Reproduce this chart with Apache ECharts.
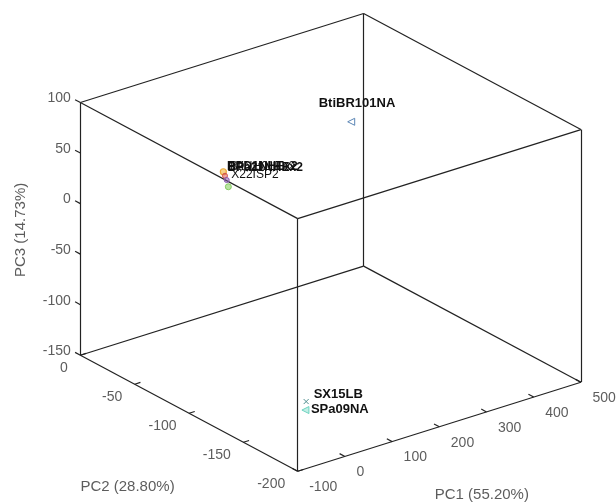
<!DOCTYPE html>
<html><head><meta charset="utf-8">
<script src="https://cdn.jsdelivr.net/npm/echarts@6/dist/echarts.min.js"></script>
<style>html,body{margin:0;padding:0;background:#fff}#c{width:616px;height:503px}</style>
</head><body><div id="c"></div>
<script>
// ---------------- data ----------------
const sampleNames = ['BtiBR101NA', 'BPD1NHEx2', 'BPa21NHEx2', 'X22ISP2', 'BtiNH01Ex2', 'SX15LB', 'SPa09NA'];
const pc1Values   = [430, -40, -40, -40, -40, -13, -10];
const pc2Values   = [-19, -105.5, -107, -108.6, -110.1, -170, -168];
const pc3Values   = [14, 83.3, 80.2, 76.9, 71.1, -111, -121];
const pc1Ticks = [-100, 0, 100, 200, 300, 400, 500];
const pc2Ticks = [0, -50, -100, -150, -200];
const pc3Ticks = [-150, -100, -50, 0, 50, 100];
const pc1Title = 'PC1 (55.20%)';
const pc2Title = 'PC2 (28.80%)';
const pc3Title = 'PC3 (14.73%)';

// ---------------- view / styles ----------------
const view = { az: 37.5, el: 24.2, boxW: 357, boxH: 277, originX: 297.7, originY: 471.3 };
const FONT = 'Liberation Sans, Arial, sans-serif';
const LINE = '#222222';
const TXT = '#333333';
const markerStyle = {
  'BtiBR101NA': { symbol: 'triangle', rotate: 90, size: 7, fill: 'rgba(0,0,0,0)', stroke: '#5b86b5', lw: 1, lab: [-33, -18], bold: true, fs: 13 },
  'BPD1NHEx2':  { symbol: 'circle', rotate: 0, size: 6, fill: 'rgba(240,180,60,0.6)', stroke: '#e9a93a', lw: 1.2, lab: [3, -5], bold: true, fs: 12 },
  'BPa21NHEx2': { symbol: 'circle', rotate: 0, size: 5, fill: 'rgba(220,80,80,0.5)', stroke: '#d0504a', lw: 1, lab: [2, -8.5], bold: true, fs: 12 },
  'X22ISP2':    { symbol: 'circle', rotate: 0, size: 5, fill: 'rgba(140,90,180,0.5)', stroke: '#8a5cb0', lw: 1, lab: [4, -5], bold: false, fs: 12 },
  'BtiNH01Ex2': { symbol: 'circle', rotate: 0, size: 6, fill: 'rgba(140,210,100,0.6)', stroke: '#86cc62', lw: 1, lab: [1, -20], bold: false, fs: 12 },
  'SX15LB':     { symbol: 'path://M0,0L10,10M10,0L0,10', rotate: 0, size: 5, fill: 'rgba(0,0,0,0)', stroke: '#4f8f8f', lw: 1, lab: [7, -7], bold: true, fs: 13 },
  'SPa09NA':    { symbol: 'triangle', rotate: 90, size: 7, fill: 'rgba(120,220,200,0.45)', stroke: '#6dd3c0', lw: 1, lab: [5, -1], bold: true, fs: 13 }
};

// ---------------- projection ----------------
const xr = [Math.min(...pc1Ticks), Math.max(...pc1Ticks)];
const yr = [Math.min(...pc2Ticks), Math.max(...pc2Ticks)];
const zr = [Math.min(...pc3Ticks), Math.max(...pc3Ticks)];
const a = view.az * Math.PI / 180, e = view.el * Math.PI / 180;
const hx = view.boxW * Math.cos(a), hy = -view.boxW * Math.sin(a);
const vx = view.boxW * Math.sin(a) * Math.sin(e), vy = view.boxW * Math.cos(a) * Math.sin(e), vz = view.boxH * Math.cos(e);
function project(x, y, z) {
  const X = (x - xr[0]) / (xr[1] - xr[0]);
  const Y = (y - yr[0]) / (yr[1] - yr[0]);
  const Z = (z - zr[0]) / (zr[1] - zr[0]);
  return [view.originX + X * hx + Y * hy, view.originY - (X * vx + Y * vy + Z * vz)];
}
function unitDir(dx, dy, dz) {
  const p0 = project(xr[0], yr[0], zr[0]);
  const p1 = project(xr[0] + dx * (xr[1] - xr[0]), yr[0] + dy * (yr[1] - yr[0]), zr[0] + dz * (zr[1] - zr[0]));
  const ux = p1[0] - p0[0], uy = p1[1] - p0[1], n = Math.hypot(ux, uy);
  return [ux / n, uy / n];
}

// box edges
const edges = [];
for (const yv of yr) for (const zv of zr) edges.push({ coords: [project(xr[0], yv, zv), project(xr[1], yv, zv)] });
for (const xv of xr) for (const zv of zr) edges.push({ coords: [project(xv, yr[0], zv), project(xv, yr[1], zv)] });
for (const xv of xr) for (const yv of yr) edges.push({ coords: [project(xv, yv, zr[0]), project(xv, yv, zr[1])] });

// tick marks
const TL = 6;
const dX = unitDir(1, 0, 0), dY = unitDir(0, 1, 0);
const ticks = [];
pc1Ticks.forEach(v => { const p = project(v, yr[0], zr[0]); ticks.push({ coords: [p, [p[0] + dY[0] * TL, p[1] + dY[1] * TL]] }); });
pc2Ticks.forEach(v => { const p = project(xr[0], v, zr[0]); ticks.push({ coords: [p, [p[0] + dX[0] * TL, p[1] + dX[1] * TL]] }); });
pc3Ticks.forEach(v => { const p = project(xr[0], yr[1], v); ticks.push({ coords: [p, [p[0] + dY[0] * TL, p[1] + dY[1] * TL]] }); });

function textSeries(points, labelOpt) {
  return {
    type: 'scatter', symbolSize: 1, silent: true, z: 5,
    itemStyle: { color: 'rgba(0,0,0,0)' },
    data: points.map(p => ({ value: p.pos, name: p.text })),
    label: Object.assign({ show: true, formatter: q => q.name, distance: 0, color: TXT, fontFamily: FONT, fontSize: 14 }, labelOpt)
  };
}

const series = [];
series.push({ type: 'lines', coordinateSystem: 'cartesian2d', silent: true, z: 2, data: edges, lineStyle: { color: LINE, width: 1.2, opacity: 1 } });
series.push({ type: 'lines', coordinateSystem: 'cartesian2d', silent: true, z: 2, data: ticks, lineStyle: { color: LINE, width: 1.2, opacity: 1 } });
series.push(textSeries(pc1Ticks.map(v => ({ pos: project(v, yr[0], zr[0]), text: String(v) })), { position: 'right', offset: [11, 16] }));
series.push(textSeries(pc2Ticks.map(v => ({ pos: project(xr[0], v, zr[0]), text: String(v) })), { position: 'left', offset: [-12, 13] }));
series.push(textSeries(pc3Ticks.map(v => ({ pos: project(xr[0], yr[1], v), text: String(v) })), { position: 'left', offset: [-9, -4] }));

// axis titles (anchored at axis midpoints)
const m1 = project((xr[0] + xr[1]) / 2, yr[0], zr[0]);
const m2 = project(xr[0], (yr[0] + yr[1]) / 2, zr[0]);
const m3 = project(xr[0], yr[1], (zr[0] + zr[1]) / 2);
series.push(textSeries([{ pos: [m1[0] + 42.5, m1[1] + 68], text: pc1Title }], { position: 'inside', fontSize: 15 }));
series.push(textSeries([{ pos: [m2[0] - 61.5, m2[1] + 74], text: pc2Title }], { position: 'inside', fontSize: 15 }));
series.push(textSeries([{ pos: [m3[0] - 60, m3[1] + 1], text: pc3Title }], { position: 'inside', fontSize: 15, rotate: 90 }));

// samples
sampleNames.forEach((nm, i) => {
  const s = markerStyle[nm];
  series.push({
    type: 'scatter', name: nm, z: 10,
    symbol: s.symbol, symbolRotate: s.rotate, symbolSize: s.size,
    itemStyle: { color: s.fill, borderColor: s.stroke, borderWidth: s.lw, opacity: 1 },
    data: [{ value: project(pc1Values[i], pc2Values[i], pc3Values[i]), name: nm }],
    label: {
      show: true, formatter: nm, position: 'right', distance: 0,
      offset: [s.lab[0] - s.size / 2, s.lab[1]],
      color: '#111', fontFamily: FONT, fontSize: s.fs, fontWeight: s.bold ? 'bold' : 'normal'
    }
  });
});

const chart = echarts.init(document.getElementById('c'), null, { renderer: 'canvas' });
chart.setOption({
  backgroundColor: '#ffffff',
  animation: false,
  grid: { left: 0, right: 0, top: 0, bottom: 0 },
  xAxis: { type: 'value', min: 0, max: 616, show: false },
  yAxis: { type: 'value', min: 0, max: 503, inverse: true, show: false },
  tooltip: { show: false },
  series: series
});
</script>
</body></html>
